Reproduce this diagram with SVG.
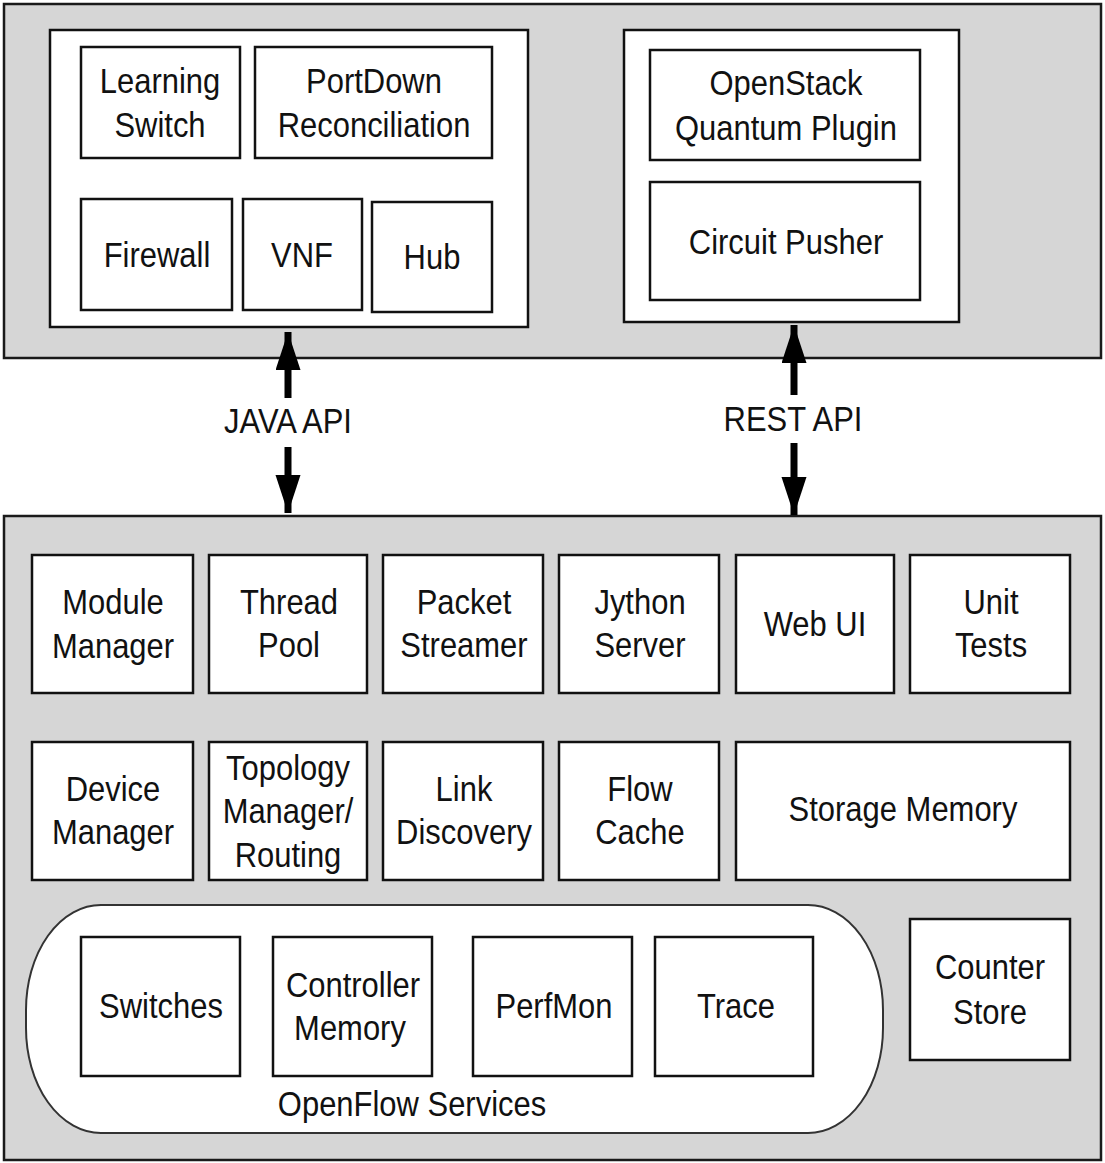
<svg xmlns="http://www.w3.org/2000/svg" width="1105" height="1163" viewBox="0 0 1105 1163">
<style>
.panel{fill:#d6d6d6;stroke:#1a1a1a;stroke-width:2.5}
.inner{fill:#fff;stroke:#111;stroke-width:2.5}
.box{fill:#fff;stroke:#111;stroke-width:2.5}
.pill{fill:#fff;stroke:#333;stroke-width:2}
text{font-family:"Liberation Sans",Arial,sans-serif;font-size:36px;fill:#111;text-anchor:middle}
.conn{stroke:#000;stroke-width:7;fill:none}
</style>
<defs>
<marker id="ah" markerUnits="userSpaceOnUse" markerWidth="40" markerHeight="26" refX="38" refY="12.5" orient="auto">
<path d="M0,0 L38,12.5 L0,25 z" fill="#000"/>
</marker>
</defs>
<rect class="panel" x="4" y="4" width="1097" height="354"/>
<rect class="panel" x="4" y="516" width="1097" height="644"/>
<g id="apps-java">
<rect class="inner" x="50" y="30" width="478" height="297"/>
</g>
<g id="apps-rest">
<rect class="inner" x="624" y="30" width="335" height="292"/>
</g>
<g id="learning-switch"><rect class="box" x="81" y="47" width="159" height="111"/><text transform="matrix(0.86,0,0,1,160,93)">Learning</text><text transform="matrix(0.86,0,0,1,160,137)">Switch</text></g>
<g id="portdown"><rect class="box" x="255" y="47" width="237" height="111"/><text transform="matrix(0.86,0,0,1,374,93)">PortDown</text><text transform="matrix(0.86,0,0,1,374,137)">Reconciliation</text></g>
<g id="firewall"><rect class="box" x="81" y="199" width="151" height="111"/><text transform="matrix(0.86,0,0,1,157,267)">Firewall</text></g>
<g id="vnf"><rect class="box" x="243" y="199" width="119" height="111"/><text transform="matrix(0.86,0,0,1,302,267)">VNF</text></g>
<g id="hub"><rect class="box" x="372" y="202" width="120" height="110"/><text transform="matrix(0.86,0,0,1,432,269)">Hub</text></g>
<g id="openstack"><rect class="box" x="650" y="50" width="270" height="110"/><text transform="matrix(0.86,0,0,1,786,95)">OpenStack</text><text transform="matrix(0.86,0,0,1,786,140)">Quantum Plugin</text></g>
<g id="circuit-pusher"><rect class="box" x="650" y="182" width="270" height="118"/><text transform="matrix(0.86,0,0,1,786,254)">Circuit Pusher</text></g>

<g id="connectors">
<line class="conn" x1="288" y1="398" x2="288" y2="332" marker-end="url(#ah)"/>
<line class="conn" x1="288" y1="447" x2="288" y2="513" marker-end="url(#ah)"/>
<text transform="matrix(0.86,0,0,1,288,433)">JAVA API</text>
<line class="conn" x1="794" y1="395" x2="794" y2="325" marker-end="url(#ah)"/>
<line class="conn" x1="794" y1="443" x2="794" y2="515" marker-end="url(#ah)"/>
<text transform="matrix(0.86,0,0,1,793,431)">REST API</text>
</g>

<g id="module-manager"><rect class="box" x="32" y="555" width="161" height="138"/><text transform="matrix(0.86,0,0,1,113,614)">Module</text><text transform="matrix(0.86,0,0,1,113,658)">Manager</text></g>
<g id="thread-pool"><rect class="box" x="209" y="555" width="158" height="138"/><text transform="matrix(0.86,0,0,1,289,614)">Thread</text><text transform="matrix(0.86,0,0,1,289,657)">Pool</text></g>
<g id="packet-streamer"><rect class="box" x="383" y="555" width="160" height="138"/><text transform="matrix(0.86,0,0,1,464,614)">Packet</text><text transform="matrix(0.86,0,0,1,464,657)">Streamer</text></g>
<g id="jython-server"><rect class="box" x="559" y="555" width="160" height="138"/><text transform="matrix(0.86,0,0,1,640,614)">Jython</text><text transform="matrix(0.86,0,0,1,640,657)">Server</text></g>
<g id="web-ui"><rect class="box" x="736" y="555" width="158" height="138"/><text transform="matrix(0.86,0,0,1,815,636)">Web UI</text></g>
<g id="unit-tests"><rect class="box" x="910" y="555" width="160" height="138"/><text transform="matrix(0.86,0,0,1,991,614)">Unit</text><text transform="matrix(0.86,0,0,1,991,657)">Tests</text></g>

<g id="device-manager"><rect class="box" x="32" y="742" width="161" height="138"/><text transform="matrix(0.86,0,0,1,113,801)">Device</text><text transform="matrix(0.86,0,0,1,113,844)">Manager</text></g>
<g id="topology-manager"><rect class="box" x="209" y="742" width="158" height="138"/><text transform="matrix(0.86,0,0,1,288,780)">Topology</text><text transform="matrix(0.86,0,0,1,288,823)">Manager/</text><text transform="matrix(0.86,0,0,1,288,867)">Routing</text></g>
<g id="link-discovery"><rect class="box" x="383" y="742" width="160" height="138"/><text transform="matrix(0.86,0,0,1,464,801)">Link</text><text transform="matrix(0.86,0,0,1,464,844)">Discovery</text></g>
<g id="flow-cache"><rect class="box" x="559" y="742" width="160" height="138"/><text transform="matrix(0.86,0,0,1,640,801)">Flow</text><text transform="matrix(0.86,0,0,1,640,844)">Cache</text></g>
<g id="storage-memory"><rect class="box" x="736" y="742" width="334" height="138"/><text transform="matrix(0.86,0,0,1,903,821)">Storage Memory</text></g>

<g id="openflow-services"><rect class="pill" x="26" y="905" width="857" height="228" rx="75" ry="105"/><text transform="matrix(0.86,0,0,1,412,1116)">OpenFlow Services</text></g>
<g id="switches"><rect class="box" x="81" y="937" width="159" height="139"/><text transform="matrix(0.86,0,0,1,161,1018)">Switches</text></g>
<g id="controller-memory"><rect class="box" x="273" y="937" width="159" height="139"/><text transform="matrix(0.86,0,0,1,353,997)">Controller</text><text transform="matrix(0.86,0,0,1,350,1040)">Memory</text></g>
<g id="perfmon"><rect class="box" x="473" y="937" width="159" height="139"/><text transform="matrix(0.86,0,0,1,554,1018)">PerfMon</text></g>
<g id="trace"><rect class="box" x="655" y="937" width="158" height="139"/><text transform="matrix(0.86,0,0,1,736,1018)">Trace</text></g>
<g id="counter-store"><rect class="box" x="910" y="919" width="160" height="141"/><text transform="matrix(0.86,0,0,1,990,979)">Counter</text><text transform="matrix(0.86,0,0,1,990,1024)">Store</text></g>
</svg>
